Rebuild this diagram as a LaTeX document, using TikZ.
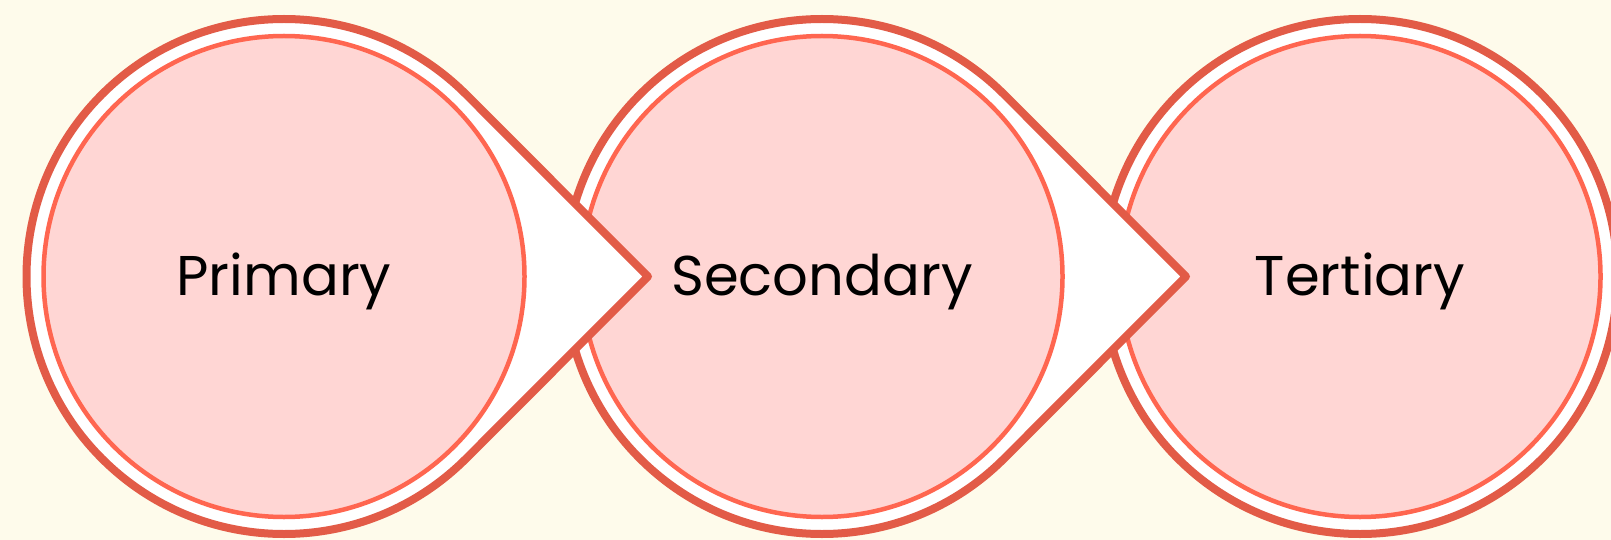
\documentclass[tikz,border=0pt]{standalone}
\usepackage{fontspec}
\setmainfont{Poppins}
\usetikzlibrary{positioning}
\definecolor{ringred}{HTML}{E25B47}
\definecolor{ringcoral}{HTML}{FF6650}
\definecolor{stagepink}{HTML}{FFD6D4}
\definecolor{pagecream}{HTML}{FEFBEB}
\tikzset{
  ring/.style={draw=ringred, fill=white, line width=8pt, line join=round},
  stage/.style={circle, draw=ringcoral, fill=stagepink, line width=4.5pt,
    minimum size=481pt, inner sep=0pt, text height=37pt, text depth=0pt,
    font=\fontsize{56}{62}\selectfont},
}

\begin{document}
\begin{tikzpicture}[x=1pt, y=-1pt]
  \fill[pagecream] (0,0) rectangle (1611,540);
  \useasboundingbox (0,0) rectangle (1611,540);
  % last stage: plain ring
  \draw[ring] (1360,276.5) circle (257.5);
  \node[stage] (ter) at (1360,276.5) {Tertiary};
  % middle stage: ring pointing right
  \draw[ring] (822,276.5) ++(45:257.5) arc (45:315:257.5) -- (1186,276.5) -- cycle;
  \node[stage] (sec) at (822,276.5) {Secondary};
  % first stage
  \draw[ring] (284,276.5) ++(45:257.5) arc (45:315:257.5) -- (648,276.5) -- cycle;
  \node[stage] (pri) at (284,276.5) {Primary};
\end{tikzpicture}
\end{document}
